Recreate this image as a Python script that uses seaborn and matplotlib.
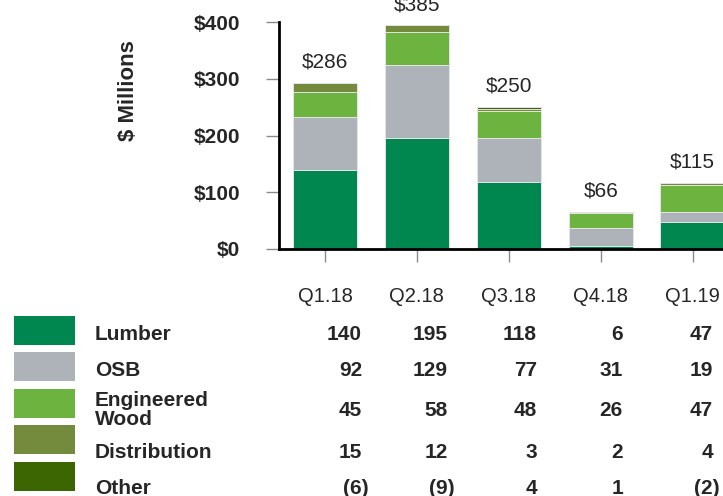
import numpy as np
import matplotlib.pyplot as plt
import seaborn as sns
from matplotlib.patches import Rectangle
import matplotlib.transforms as mtransforms

# data
quarters = ["Q1.18", "Q2.18", "Q3.18", "Q4.18", "Q1.19"]
segments = ["Lumber", "OSB", "Engineered\nWood", "Distribution", "Other"]
lumber = [140, 195, 118, 6, 47]
osb = [92, 129, 77, 31, 19]
eng_wood = [45, 58, 48, 26, 47]
distribution = [15, 12, 3, 2, 4]
other = [-6, -9, 4, 1, -2]
totals = [286, 385, 250, 66, 115]
yticks = [0, 100, 200, 300, 400]
ytick_labels = ["$0", "$100", "$200", "$300", "$400"]
colors = ["#00874f", "#adb3b9", "#6db33f", "#748b3e", "#3c6602"]

sns.set_style("white")
plt.rcParams["font.family"] = ["Liberation Sans", "DejaVu Sans"]

W, H = 723, 496
fig = plt.figure(figsize=(W / 100, H / 100), dpi=100)
ax = fig.add_axes([279 / W, 1 - 249 / H, 1 - 279 / W, 227 / H])

# stacked bars: only positive parts are stacked, drawn top layer first
values = np.array([lumber, osb, eng_wood, distribution, other])
cum = np.cumsum(np.clip(values, 0, None), axis=0)
for i in range(len(segments) - 1, -1, -1):
    sns.barplot(x=quarters, y=cum[i], color=colors[i], saturation=1, width=0.7,
                edgecolor="#e4e6e6", linewidth=0.7, ax=ax)

for i, t in enumerate(totals):
    ax.annotate(f"${t}", xy=(i, cum[-1][i]), xytext=(0, 15), textcoords="offset points",
                ha="center", va="center", fontsize=15, annotation_clip=False)

ax.set_xlim(-0.5, 4.33)
ax.set_ylim(0, 400)
ax.set_yticks(yticks)
ax.set_yticklabels(ytick_labels, fontsize=15, fontweight="bold")
ax.set_xlabel("")
ax.set_ylabel("")
sns.despine(ax=ax)
for s in ["left", "bottom"]:
    ax.spines[s].set_linewidth(2)
    ax.spines[s].set_color("black")
ax.tick_params(axis="y", direction="out", length=9.5, width=1, color="#8a8a8a", pad=18.5, left=True)
ax.tick_params(axis="x", direction="out", length=9, width=1, color="#8a8a8a",
               bottom=True, labelbottom=False)

fig.text(129 / W, 1 - 91 / H, "$ Millions", rotation=90, ha="center", va="center",
         fontsize=16, fontweight="bold")

# table below the chart
blend = mtransforms.blended_transform_factory(ax.transData, fig.transFigure)
for i, q in enumerate(quarters):
    fig.text(i, 1 - 297 / H, q, ha="center", va="center", fontsize=14.5, transform=blend)

row_y = [334, 370, 410, 453, 488]
swatch_y = [316, 352, 389, 425, 462]
num_right = [362, 448, 537, 623, 713]
for r, name in enumerate(segments):
    fig.patches.append(Rectangle((14 / W, 1 - (swatch_y[r] + 29) / H), 61 / W, 29 / H,
                                 transform=fig.transFigure, facecolor=colors[r],
                                 edgecolor="none"))
    fig.text(95 / W, 1 - row_y[r] / H, name, ha="left", va="center", fontsize=15,
             fontweight="bold", linespacing=0.95)
    for c, v in enumerate(values[r]):
        if v < 0:
            txt, xr = f"({-v})", num_right[c] + 7
        else:
            txt, xr = str(v), num_right[c]
        fig.text(xr / W, 1 - row_y[r] / H, txt, ha="right", va="center", fontsize=15,
                 fontweight="bold")

fig.savefig("out.png", dpi=100)
